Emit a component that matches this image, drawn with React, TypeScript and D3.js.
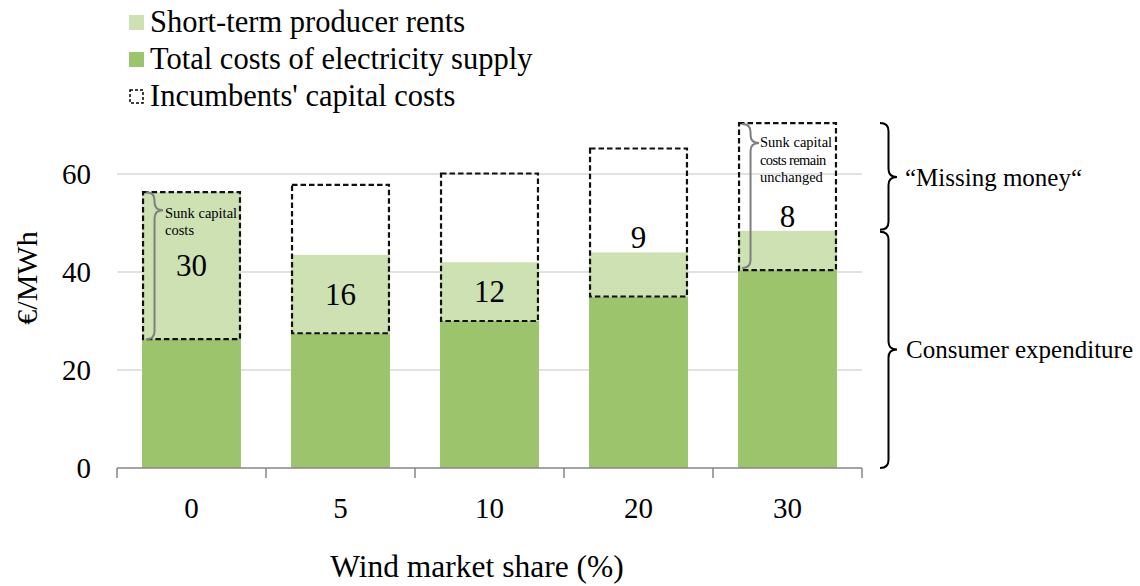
import React from "react";
import * as d3 from "d3";

const categories = ["0", "5", "10", "20", "30"];
const totalCosts = [26.3, 27.5, 30, 35, 40.4];
const producerRents = [30, 16, 12, 9, 8];
const capitalCosts = [30, 30.3, 30.1, 30.2, 30];
const yTicks = [0, 20, 40, 60];
const legendLabels = ["Short-term producer rents", "Total costs of electricity supply", "Incumbents' capital costs"];

const W = 1140;
const H = 586;
const FONT = "'Liberation Serif', 'Times New Roman', serif";
const DARK = "#9cc46c";
const LIGHT = "#cde1b3";

// curly brace pointing right; x0 = curl side, x1 = tip side
function bracePath(x0: number, x1: number, y0: number, y1: number, tipY: number) {
  const xm = (x0 + x1) / 2;
  const r = Math.min(8, (tipY - y0) / 2, (y1 - tipY) / 2);
  return [
    `M${x0},${y0}`,
    `Q${xm},${y0} ${xm},${y0 + r}`,
    `L${xm},${tipY - r}`,
    `Q${xm},${tipY} ${x1},${tipY}`,
    `Q${xm},${tipY} ${xm},${tipY + r}`,
    `L${xm},${y1 - r}`,
    `Q${xm},${y1} ${x0},${y1}`,
  ].join(" ");
}

export default function App() {
  const x = d3.scaleBand<string>().domain(categories).range([117, 862]).paddingInner(0.336).paddingOuter(0.168);
  const y = d3.scaleLinear().domain([0, 70]).range([468, 125]);
  const bw = x.bandwidth();
  const step = x.step();

  const last = categories.length - 1;
  const lastTop = totalCosts[last] + capitalCosts[last];
  const lastRentTop = totalCosts[last] + producerRents[last];

  return (
    <svg width={W} height={H} style={{ position: "absolute", left: 0, top: 0, background: "#fff" }} fontFamily={FONT}>
      {/* legend */}
      <g>
        <rect x={129} y={15} width={15} height={15} fill={LIGHT} />
        <text x={150} y={32} fontSize={30.5}>{legendLabels[0]}</text>
        <rect x={129} y={52} width={15} height={15} fill={DARK} />
        <text x={150} y={69} fontSize={30.5}>{legendLabels[1]}</text>
        <rect x={130} y={90} width={13} height={13} fill="none" stroke="#000" strokeWidth={1.5} strokeDasharray="3,2" />
        <text x={150} y={106} fontSize={30.5}>{legendLabels[2]}</text>
      </g>

      {/* gridlines */}
      {yTicks.filter((t) => t > 0).map((t) => (
        <line key={t} x1={117} x2={862} y1={y(t)} y2={y(t)} stroke="#d9d9d9" strokeWidth={1.5} />
      ))}
      {/* y tick labels */}
      {yTicks.map((t) => (
        <text key={t} x={91} y={y(t)} dy="0.35em" textAnchor="end" fontSize={29}>{t}</text>
      ))}
      <text transform={`translate(37,278) rotate(-90)`} textAnchor="middle" fontSize={30}>€/MWh</text>

      {/* bars */}
      {categories.map((c, i) => {
        const x0 = x(c)!;
        const t = totalCosts[i];
        const r = producerRents[i];
        const k = capitalCosts[i];
        return (
          <g key={c}>
            <rect x={x0} y={y(t)} width={bw} height={y(0) - y(t)} fill={DARK} />
            <rect x={x0} y={y(t + r)} width={bw} height={y(t) - y(t + r)} fill={LIGHT} />
            <rect x={x0 + 1} y={y(t + k)} width={bw - 2} height={y(t) - y(t + k)} fill="none" stroke="#111" strokeWidth={2.2} strokeDasharray="5.5,3" />
          </g>
        );
      })}

      {/* bar labels */}
      {categories.map((c, i) => {
        const cx = x(c)! + bw / 2;
        const t = totalCosts[i];
        const r = producerRents[i];
        const above = r < 10;
        const yy = above ? y(t + r) - 4 : (y(t) + y(t + r)) / 2;
        return (
          <text key={c} x={cx} y={yy} dy={above ? 0 : "0.35em"} textAnchor="middle" fontSize={31}>{r}</text>
        );
      })}

      {/* inner annotations */}
      {(() => {
        const x0 = x(categories[0])!;
        const top = y(totalCosts[0] + capitalCosts[0]);
        const bot = y(totalCosts[0]);
        return (
          <g>
            <path d={bracePath(x0 + 4, x0 + 21, top, bot, top + 18)} fill="none" stroke="#7f7f7f" strokeWidth={2} />
            <text x={x0 + 23} y={top + 26} fontSize={14.5}>Sunk capital</text>
            <text x={x0 + 23} y={top + 43} fontSize={14.5}>costs</text>
          </g>
        );
      })()}
      {(() => {
        const x0 = x(categories[last])!;
        const top = y(totalCosts[last] + capitalCosts[last]);
        const bot = y(totalCosts[last]);
        return (
          <g>
            <path d={bracePath(x0 + 4, x0 + 21, top + 1, bot - 2, top + 20)} fill="none" stroke="#7f7f7f" strokeWidth={2} />
            <text x={x0 + 22} y={top + 24} fontSize={14.5}>Sunk capital</text>
            <text x={x0 + 22} y={top + 42} fontSize={14.5} letterSpacing={-0.6}>costs remain</text>
            <text x={x0 + 22} y={top + 59} fontSize={14.5}>unchanged</text>
          </g>
        );
      })()}

      {/* x axis */}
      <line x1={117} x2={862} y1={y(0)} y2={y(0)} stroke="#868686" strokeWidth={1.5} />
      {d3.range(categories.length + 1).map((i) => (
        <line key={i} x1={117 + i * step} x2={117 + i * step} y1={y(0)} y2={y(0) + 10} stroke="#868686" strokeWidth={1.5} />
      ))}
      {categories.map((c) => (
        <text key={c} x={x(c)! + bw / 2} y={518} textAnchor="middle" fontSize={29}>{c}</text>
      ))}
      <text x={477} y={577} textAnchor="middle" fontSize={31.5}>Wind market share (%)</text>

      {/* right braces */}
      <path d={bracePath(880, 897, y(lastTop), y(lastRentTop) - 1, (y(lastTop) + y(lastRentTop)) / 2)} fill="none" stroke="#000" strokeWidth={2} />
      <path d={bracePath(880, 897, y(lastRentTop) + 1, y(0), (y(lastRentTop) + y(0)) / 2)} fill="none" stroke="#000" strokeWidth={2} />
      <text x={905} y={(y(lastTop) + y(lastRentTop)) / 2} dy="0.35em" fontSize={25}>“Missing money“</text>
      <text x={906} y={(y(lastRentTop) + y(0)) / 2} dy="0.35em" fontSize={25}>Consumer expenditure</text>
    </svg>
  );
}
